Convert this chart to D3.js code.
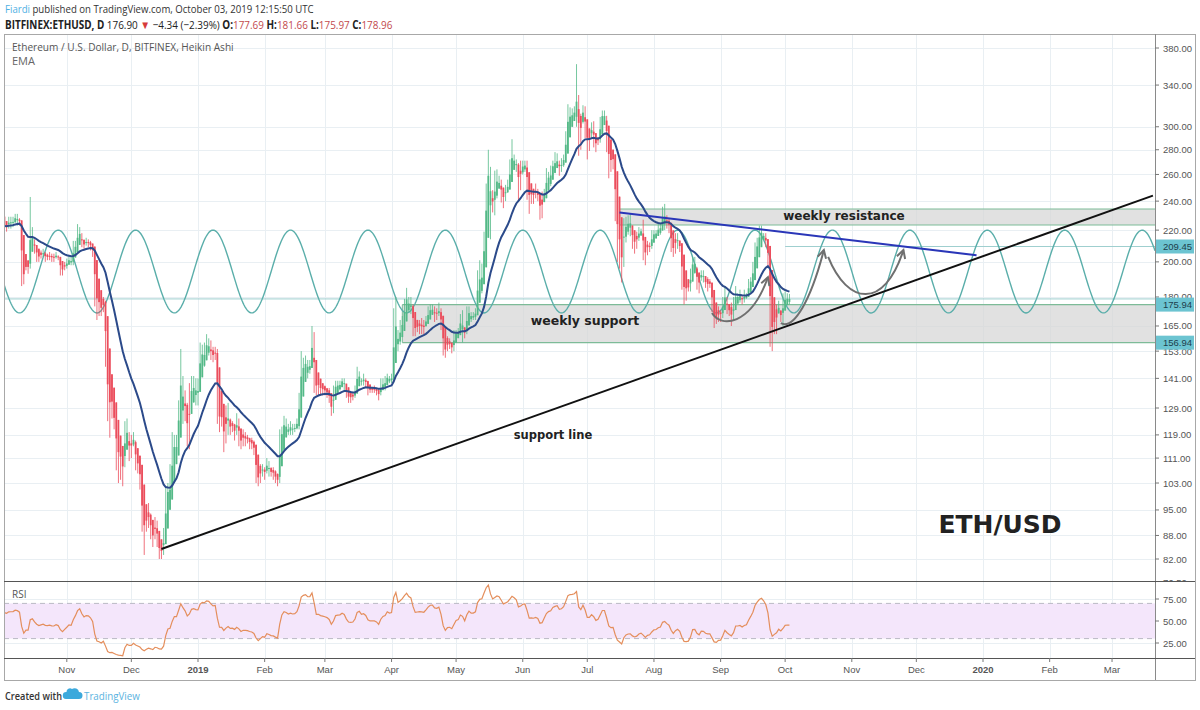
<!DOCTYPE html>
<html>
<head>
<meta charset="utf-8">
<script src="https://cdn.jsdelivr.net/npm/d3@7"></script>
<style>
  body { margin: 0; background: #fff; }
  svg { display: block; }
</style>
</head>
<body>
<svg id="chart" width="1200" height="710"></svg>
<script>
// First daily bar (a few warm-up bars sit left of the visible window)
const firstDay = "2018-09-18";

// Daily BITFINEX ETHUSD, one line per month (close / high / low)
const closes = [
  209, 210, 224, 247, 241, 245, 228, 219, 216, 229, 222, 232, 232,
  231, 227, 221, 223, 227, 224, 227, 229, 227, 226, 190, 196, 197, 197, 218, 212, 209, 204, 203, 205, 205, 203, 203, 204, 202, 203, 204, 202, 195, 196, 198,
  200, 201, 200, 210, 209, 219, 216, 211, 211, 213, 212, 210, 206, 183, 181, 175, 174, 177, 149, 131, 136, 127, 124, 113, 116, 108, 110, 122, 118, 113,
  118, 116, 109, 110, 102, 91, 93, 92, 93, 89, 88, 91, 86, 84, 84, 87, 101, 100, 99, 117, 113, 118, 130, 140, 129, 130, 117, 137, 134, 141, 132,
  140, 155, 148, 154, 157, 154, 151, 151, 153, 127, 127, 125, 117, 129, 121, 123, 122, 120, 124, 118, 117, 119, 117, 118, 116, 116, 113, 106, 104, 108, 107,
  107, 110, 106, 107, 106, 104, 104, 119, 120, 125, 120, 122, 122, 121, 122, 124, 134, 146, 146, 149, 145, 148, 158, 137, 140, 138, 137, 136,
  136, 135, 132, 127, 137, 138, 138, 139, 141, 138, 134, 134, 133, 134, 137, 143, 141, 140, 141, 139, 135, 137, 136, 136, 136, 133, 140, 137, 141, 141, 141,
  141, 164, 161, 158, 165, 166, 178, 179, 175, 176, 164, 165, 164, 167, 162, 167, 167, 173, 173, 173, 171, 172, 171, 165, 154, 155, 156, 156, 154, 162,
  161, 163, 169, 162, 162, 172, 171, 170, 170, 173, 194, 186, 196, 216, 250, 264, 245, 234, 261, 251, 255, 244, 245, 249, 251, 267, 273, 271, 268, 255, 268,
  266, 269, 251, 244, 246, 245, 244, 245, 229, 246, 245, 262, 255, 264, 268, 269, 271, 265, 270, 274, 294, 310, 310, 311, 316, 316, 293, 311, 318, 292,
  293, 292, 302, 283, 288, 289, 307, 313, 308, 289, 269, 276, 269, 229, 230, 200, 211, 227, 221, 229, 222, 214, 213, 216, 220, 219, 206, 208, 211, 210, 218,
  218, 218, 222, 222, 233, 226, 227, 221, 211, 207, 217, 211, 209, 187, 188, 185, 184, 195, 202, 197, 187, 191, 194, 190, 187, 188, 186, 174, 169, 169, 172,
  172, 178, 179, 174, 173, 168, 178, 181, 181, 180, 178, 181, 181, 188, 189, 197, 208, 210, 222, 218, 215, 211, 201, 165, 169, 166, 174, 173, 169, 180,
  177, 181.24, 176.9
];
const highs = [
  212, 214, 226, 251, 251, 249, 245, 230, 223, 230, 234, 233, 235,
  234, 232, 228, 225, 229, 229, 229, 231, 231, 228, 226, 198, 200, 201, 243, 222, 214, 210, 206, 207, 208, 206, 205, 206, 205, 205, 206, 204, 203, 199, 200,
  202, 204, 203, 213, 213, 224, 222, 218, 213, 215, 214, 213, 211, 207, 185, 183, 178, 180, 178, 150, 140, 138, 129, 127, 120, 118, 113, 124, 125, 120,
  119, 120, 117, 112, 110, 103, 96, 94, 97, 94, 90, 93, 92, 87, 86, 90, 102, 103, 109, 120, 119, 119, 132, 154, 142, 136, 131, 139, 142, 142, 141,
  141, 157, 156, 157, 161, 159, 158, 155, 155, 154, 129, 128, 126, 130, 131, 125, 124, 123, 127, 125, 119, 121, 120, 119, 118, 118, 117, 113, 107, 109, 109,
  108, 111, 110, 108, 108, 107, 106, 121, 122, 126, 125, 123, 124, 123, 123, 125, 135, 153, 150, 151, 149, 149, 165, 162, 141, 141, 139, 139,
  138, 137, 137, 133, 138, 140, 140, 140, 141, 141, 138, 135, 135, 135, 138, 146, 144, 141, 143, 141, 140, 138, 137, 138, 137, 137, 141, 141, 142, 143, 142,
  143, 174, 180, 163, 168, 170, 179, 185, 180, 180, 176, 167, 167, 168, 169, 168, 170, 175, 176, 176, 175, 174, 177, 174, 166, 156, 160, 159, 157, 163,
  163, 164, 171, 173, 164, 175, 175, 172, 172, 174, 195, 201, 199, 219, 253, 280, 266, 248, 263, 264, 259, 256, 248, 252, 256, 272, 289, 276, 272, 269, 271,
  271, 271, 271, 252, 252, 249, 253, 249, 246, 247, 249, 265, 262, 267, 271, 278, 277, 271, 273, 276, 296, 321, 318, 317, 319, 362, 330, 312, 320, 319,
  304, 296, 304, 305, 293, 291, 309, 315, 315, 310, 291, 279, 280, 271, 237, 230, 212, 228, 229, 230, 231, 223, 218, 219, 222, 221, 227, 211, 213, 212, 220,
  220, 220, 224, 224, 236, 238, 230, 228, 221, 213, 218, 218, 213, 209, 191, 188, 189, 196, 203, 203, 197, 192, 195, 195, 191, 191, 190, 187, 174, 172, 175,
  173, 180, 186, 180, 175, 177, 180, 186, 182, 184, 181, 184, 182, 190, 191, 200, 212, 215, 223, 223, 218, 218, 212, 201, 171, 172, 176, 178, 173, 182,
  183, 182, 181.66
];
const lows = [
  194, 200, 209, 223, 237, 236, 225, 209, 213, 212, 220, 221, 228,
  226, 224, 216, 219, 221, 221, 222, 225, 223, 223, 186, 187, 195, 193, 196, 209, 205, 200, 200, 202, 203, 200, 201, 201, 200, 200, 202, 201, 192, 192, 195,
  196, 199, 198, 198, 205, 208, 213, 209, 208, 210, 209, 207, 203, 175, 168, 170, 170, 172, 146, 124, 118, 125, 121, 107, 103, 104, 102, 108, 114, 110,
  111, 115, 107, 106, 101, 89, 83, 89, 90, 87, 85, 87, 85, 82, 82, 83, 86, 97, 96, 98, 110, 109, 117, 128, 123, 124, 115, 114, 130, 131, 130,
  130, 138, 147, 146, 151, 151, 149, 148, 149, 123, 120, 122, 113, 116, 119, 119, 120, 117, 119, 115, 114, 115, 115, 116, 114, 114, 112, 103, 102, 103, 105,
  104, 106, 105, 105, 104, 103, 102, 103, 116, 119, 118, 119, 119, 119, 120, 121, 121, 134, 140, 143, 141, 143, 147, 135, 134, 134, 134, 134,
  134, 133, 131, 126, 127, 135, 136, 136, 138, 136, 133, 131, 131, 132, 133, 137, 139, 138, 138, 137, 134, 135, 135, 135, 134, 132, 134, 136, 136, 140, 139,
  139, 140, 154, 153, 156, 161, 165, 173, 172, 171, 160, 160, 162, 161, 161, 161, 165, 167, 170, 171, 167, 168, 170, 163, 151, 150, 153, 154, 152, 153,
  159, 160, 162, 157, 159, 161, 168, 167, 168, 168, 172, 178, 182, 195, 214, 242, 214, 232, 230, 242, 249, 239, 235, 240, 246, 250, 263, 264, 262, 240, 248,
  260, 262, 241, 231, 238, 238, 242, 240, 227, 228, 240, 242, 251, 251, 263, 261, 265, 259, 262, 266, 273, 293, 299, 304, 306, 300, 275, 280, 303, 290,
  272, 279, 290, 282, 278, 284, 286, 304, 303, 278, 257, 262, 264, 226, 200, 196, 188, 197, 212, 217, 216, 208, 205, 208, 213, 217, 201, 198, 204, 206, 208,
  213, 215, 217, 217, 221, 220, 221, 218, 206, 203, 205, 208, 206, 184, 176, 178, 183, 183, 194, 193, 184, 182, 189, 188, 185, 183, 185, 172, 164, 166, 167,
  167, 169, 176, 171, 170, 165, 168, 175, 176, 177, 176, 177, 179, 180, 186, 187, 195, 205, 206, 210, 214, 209, 198, 155, 153, 161, 161, 172, 167, 165,
  174, 176, 175.97
];

// Axis ticks
const priceTicks = [380, 340, 300, 280, 260, 240, 220, 200, 180, 165, 153, 141, 129, 119, 111, 103, 95, 88, 82, 76.5];
const rsiTicks = [75, 50, 25];
const monthTicks = ["2018-11-01", "2018-12-01", "2019-01-01", "2019-02-01", "2019-03-01", "2019-04-01", "2019-05-01", "2019-06-01",
  "2019-07-01", "2019-08-01", "2019-09-01", "2019-10-01", "2019-11-01", "2019-12-01", "2020-01-01", "2020-02-01", "2020-03-01"];
const monthLabels = ["Nov", "Dec", "2019", "Feb", "Mar", "Apr", "May", "Jun", "Jul", "Aug", "Sep", "Oct", "Nov", "Dec", "2020", "Feb", "Mar"];

// Drawings (date, price)
const resistanceZone = ["2019-07-16", 234.4, 223.4];
const supportZone = ["2019-04-06", 175.94, 156.94];
const levelLine = ["2019-10-01", 209.45];
const lastClose = 178.96;
const axisBadges = [209.45, 175.94, 156.94];
const blueTrend = [["2019-07-16", 232], ["2019-12-29", 204]];
const supportTrend = [["2018-12-15", 84.5], ["2020-03-20", 244]];
const sinePeak = ["2019-09-17", 220];
const sineTrough = ["2019-10-05", 171.6];
const curveArrows = [
  [["2019-08-28", 171.5], ["2019-09-01", 164], ["2019-09-15", 165], ["2019-09-23", 191]],
  [["2019-09-29", 166.4], ["2019-10-05", 163], ["2019-10-13", 178.4], ["2019-10-19", 207.2]],
  [["2019-10-21", 203], ["2019-10-30", 175.7], ["2019-11-16", 173], ["2019-11-25", 207.2]]
];

// Header quote line pieces: text, colour, weight
const quoteParts = [
  ["BITFINEX:ETHUSD, D ", "#222", "bold"],
  ["176.90 ", "#222", "normal"],
  ["▼ ", "#d63b3b", "normal"],
  ["−4.34 (−2.39%) ", "#222", "normal"],
  ["O:", "#222", "bold"], ["177.69 ", "#c2494d", "normal"],
  ["H:", "#222", "bold"], ["181.66 ", "#c2494d", "normal"],
  ["L:", "#222", "bold"], ["175.97 ", "#c2494d", "normal"],
  ["C:", "#222", "bold"], ["178.96", "#c2494d", "normal"]
];

const emaLength = 20;
const rsiLength = 14;

// ---- layout ----
const frame = { left: 4, top: 34, right: 1195, bottom: 680 };
const axisX = 1155;
const mainBottom = 581;
const rsiBottom = 658;
const upColor = "#53b987";
const downColor = "#eb4d5c";
const gridColor = "#e9eff3";

const parse = d3.utcParse("%Y-%m-%d");
const svg = d3.select("#chart");

const x = d3.scaleUtc()
  .domain([Date.UTC(2019, 0, 1), Date.UTC(2020, 0, 1)])
  .range([198, 983]);
const y = d3.scaleLog().domain([82, 380]).range([559, 48]);
const yR = d3.scaleLinear().domain([25, 75]).range([643, 599]);

// ---- Heikin Ashi + indicators ----
const start = parse(firstDay);
const bars = closes.map((c, i) => ({
  date: d3.utcDay.offset(start, i),
  o: i ? closes[i - 1] : c, h: highs[i], l: lows[i], c: c
}));
bars.forEach((b, i) => {
  b.haC = (b.o + b.h + b.l + b.c) / 4;
  b.haO = i ? (bars[i - 1].haO + bars[i - 1].haC) / 2 : (b.o + b.c) / 2;
  b.haH = Math.max(b.h, b.haO, b.haC);
  b.haL = Math.min(b.l, b.haO, b.haC);
});
const k = 2 / (emaLength + 1);
bars.forEach((b, i) => { b.ema = i ? bars[i - 1].ema + k * (b.haC - bars[i - 1].ema) : b.haC; });
let up = 0, dn = 0;
bars.forEach((b, i) => {
  if (!i) return;
  const ch = b.haC - bars[i - 1].haC;
  const g = Math.max(ch, 0), l = Math.max(-ch, 0);
  if (i <= rsiLength) { up += g / rsiLength; dn += l / rsiLength; }
  else { up = (up * (rsiLength - 1) + g) / rsiLength; dn = (dn * (rsiLength - 1) + l) / rsiLength; }
  if (i >= rsiLength) b.rsi = dn === 0 ? 100 : 100 - 100 / (1 + up / dn);
});

// ---- clips ----
const defs = svg.append("defs");
defs.append("clipPath").attr("id", "clipMain").append("rect")
  .attr("x", frame.left).attr("y", frame.top).attr("width", axisX - frame.left).attr("height", mainBottom - frame.top);
defs.append("clipPath").attr("id", "clipRsi").append("rect")
  .attr("x", frame.left).attr("y", mainBottom).attr("width", axisX - frame.left).attr("height", rsiBottom - mainBottom);

// ---- grid ----
const grid = svg.append("g").attr("stroke", gridColor).attr("stroke-width", 1);
grid.selectAll(".vg").data(monthTicks).join("line")
  .attr("x1", d => Math.round(x(parse(d))) + 0.5).attr("x2", d => Math.round(x(parse(d))) + 0.5)
  .attr("y1", frame.top).attr("y2", rsiBottom);
grid.selectAll(".hg").data(priceTicks.filter(p => y(p) < mainBottom - 2)).join("line")
  .attr("x1", frame.left).attr("x2", axisX)
  .attr("y1", d => Math.round(y(d)) + 0.5).attr("y2", d => Math.round(y(d)) + 0.5);
svg.append("g").attr("stroke", gridColor).selectAll("line").data(rsiTicks).join("line")
  .attr("x1", frame.left).attr("x2", axisX)
  .attr("y1", d => Math.round(yR(d)) + 0.5).attr("y2", d => Math.round(yR(d)) + 0.5);

// ---- main pane ----
const main = svg.append("g").attr("clip-path", "url(#clipMain)");
const px = p => [x(parse(p[0])), y(p[1])];

// zones
[resistanceZone, supportZone].forEach(z => {
  const x0 = x(parse(z[0]));
  main.append("rect").attr("x", x0).attr("y", y(z[1])).attr("width", axisX - x0).attr("height", y(z[2]) - y(z[1]))
    .attr("fill", "#d6d6d6").attr("fill-opacity", 0.72);
  [z[1], z[2]].forEach(p => main.append("line").attr("x1", x0).attr("x2", axisX).attr("y1", y(p)).attr("y2", y(p))
    .attr("stroke", "#7dbb98").attr("stroke-width", 1.2));
  main.append("line").attr("x1", x0).attr("x2", x0).attr("y1", y(z[1])).attr("y2", y(z[2]))
    .attr("stroke", "#7dbb98").attr("stroke-width", 1);
});

// last price + level line
main.append("line").attr("x1", frame.left).attr("x2", axisX).attr("y1", y(lastClose)).attr("y2", y(lastClose))
  .attr("stroke", "#9fcfcf").attr("stroke-width", 1);
main.append("line").attr("x1", x(parse(levelLine[0]))).attr("x2", axisX).attr("y1", y(levelLine[1])).attr("y2", y(levelLine[1]))
  .attr("stroke", "#9fcfcf").attr("stroke-width", 1);

// sine line drawing
const sx0 = x(parse(sinePeak[0])), sy0 = y(sinePeak[1]);
const sx1 = x(parse(sineTrough[0])), sy1 = y(sineTrough[1]);
const period = 2 * (sx1 - sx0);
const sinePts = d3.range(frame.left, axisX + 1, 1).map(px_ =>
  [px_, (sy0 + sy1) / 2 - (sy1 - sy0) / 2 * Math.cos(2 * Math.PI * (px_ - sx0) / period)]);
main.append("path").attr("d", d3.line()(sinePts)).attr("fill", "none")
  .attr("stroke", "#5aaeaa").attr("stroke-width", 1.4);

// candles
const bw = 1.8;
const candles = main.append("g");
candles.selectAll("line").data(bars).join("line")
  .attr("x1", d => x(d.date)).attr("x2", d => x(d.date))
  .attr("y1", d => y(d.haH)).attr("y2", d => y(d.haL))
  .attr("stroke", d => d.haC >= d.haO ? upColor : downColor).attr("stroke-width", 0.8);
candles.selectAll("rect").data(bars).join("rect")
  .attr("x", d => x(d.date) - bw / 2).attr("width", bw)
  .attr("y", d => y(Math.max(d.haO, d.haC)))
  .attr("height", d => Math.max(1, Math.abs(y(d.haO) - y(d.haC))))
  .attr("fill", d => d.haC >= d.haO ? upColor : downColor);

// EMA
main.append("path").datum(bars)
  .attr("d", d3.line().x(d => x(d.date)).y(d => y(d.ema)))
  .attr("fill", "none").attr("stroke", "#2b4a8a").attr("stroke-width", 2);

// trend lines
main.append("line").attr("x1", px(supportTrend[0])[0]).attr("y1", px(supportTrend[0])[1])
  .attr("x2", px(supportTrend[1])[0]).attr("y2", px(supportTrend[1])[1])
  .attr("stroke", "#111").attr("stroke-width", 2);
main.append("line").attr("x1", px(blueTrend[0])[0]).attr("y1", px(blueTrend[0])[1])
  .attr("x2", px(blueTrend[1])[0]).attr("y2", px(blueTrend[1])[1])
  .attr("stroke", "#2a36b8").attr("stroke-width", 2);

// curved arrows
curveArrows.forEach(c => {
  const p = c.map(px);
  main.append("path")
    .attr("d", `M${p[0]}C${p[1]} ${p[2]} ${p[3]}`)
    .attr("fill", "none").attr("stroke", "#6f6f6f").attr("stroke-width", 2);
  const a = Math.atan2(p[3][1] - p[2][1], p[3][0] - p[2][0]);
  const head = [a - 0.5, a + 0.5].map(t => [p[3][0] - 9 * Math.cos(t), p[3][1] - 9 * Math.sin(t)]);
  main.append("path").attr("d", `M${head[0]}L${p[3]}L${head[1]}`)
    .attr("fill", "none").attr("stroke", "#6f6f6f").attr("stroke-width", 2);
});

// annotations
const note = (t, cx, by, fs) => svg.append("text").attr("x", cx).attr("y", by).attr("text-anchor", "middle")
  .attr("font-family", "DejaVu Sans").attr("font-weight", "bold").attr("font-size", fs).attr("fill", "#222").text(t);
note("weekly resistance", 844, 220, 12);
note("weekly support", 585, 325, 12.5);
note("support line", 553, 439, 11.5);
note("ETH/USD", 1000, 533, 25);

// ---- RSI pane ----
const rsiG = svg.append("g").attr("clip-path", "url(#clipRsi)");
rsiG.append("rect").attr("x", frame.left).attr("width", axisX - frame.left)
  .attr("y", yR(70)).attr("height", yR(30) - yR(70)).attr("fill", "#f4e6fb");
[70, 30].forEach(v => rsiG.append("line").attr("x1", frame.left).attr("x2", axisX)
  .attr("y1", yR(v)).attr("y2", yR(v)).attr("stroke", "#b9b9c4").attr("stroke-dasharray", "5,4"));
rsiG.append("path").datum(bars.filter(b => b.rsi !== undefined))
  .attr("d", d3.line().x(d => x(d.date)).y(d => yR(d.rsi)))
  .attr("fill", "none").attr("stroke", "#e48e5c").attr("stroke-width", 1.2);
svg.append("text").attr("x", 12).attr("y", 598).attr("font-family", "Open Sans").attr("font-size", 10)
  .attr("fill", "#555").text("RSI");

// ---- frame + axes ----
const fr = svg.append("g").attr("stroke", "#8a8a8a").attr("fill", "none");
fr.append("rect").attr("x", frame.left + 0.5).attr("y", frame.top + 0.5)
  .attr("width", frame.right - frame.left).attr("height", frame.bottom - frame.top).attr("stroke", "#a8a8a8");
fr.append("line").attr("x1", axisX + 0.5).attr("x2", axisX + 0.5).attr("y1", frame.top).attr("y2", frame.bottom);
fr.append("line").attr("x1", frame.left).attr("x2", frame.right).attr("y1", rsiBottom + 0.5).attr("y2", rsiBottom + 0.5).attr("stroke", "#555");

const axisFont = "Liberation Sans";
const pAxis = svg.append("g").attr("font-family", axisFont).attr("font-size", 9.5).attr("fill", "#555");
pAxis.selectAll("text").data(priceTicks).join("text")
  .attr("x", 1163).attr("y", d => y(d) + 3.5).text(d => d.toFixed(2));
pAxis.selectAll("line").data(priceTicks).join("line")
  .attr("x1", axisX).attr("x2", axisX + 4).attr("y1", d => y(d)).attr("y2", d => y(d)).attr("stroke", "#777");
// the 76.50 label is cut by the pane separator
svg.append("rect").attr("x", axisX + 1).attr("y", mainBottom + 1).attr("width", frame.right - axisX - 1).attr("height", 12).attr("fill", "#fff");
const rAxis = svg.append("g").attr("font-family", axisFont).attr("font-size", 9.5).attr("fill", "#555");
rAxis.selectAll("text").data(rsiTicks).join("text")
  .attr("x", 1163).attr("y", d => yR(d) + 3.5).text(d => d.toFixed(2));
rAxis.selectAll("line").data(rsiTicks).join("line")
  .attr("x1", axisX).attr("x2", axisX + 4).attr("y1", d => yR(d)).attr("y2", d => yR(d)).attr("stroke", "#777");
svg.append("line").attr("x1", frame.left).attr("x2", frame.right).attr("y1", mainBottom + 0.5).attr("y2", mainBottom + 0.5).attr("stroke", "#555");

// badges on the price axis
const badges = svg.append("g");
axisBadges.forEach(v => {
  badges.append("rect").attr("x", axisX + 1).attr("y", y(v) - 7).attr("width", 38).attr("height", 14).attr("fill", "#6cc4d1");
  badges.append("text").attr("x", 1163).attr("y", y(v) + 3.5).attr("font-family", axisFont).attr("font-size", 9.5)
    .attr("fill", "#1d3e4c").text(v.toFixed(2));
});

// time axis
const tAxis = svg.append("g").attr("font-family", axisFont).attr("font-size", 9.5).attr("fill", "#555").attr("text-anchor", "middle");
tAxis.selectAll("text").data(monthTicks).join("text")
  .attr("x", d => x(parse(d))).attr("y", 673)
  .attr("font-weight", (d, i) => /^\d{4}$/.test(monthLabels[i]) ? "bold" : "normal")
  .text((d, i) => monthLabels[i]);
tAxis.selectAll("line").data(monthTicks).join("line")
  .attr("x1", d => x(parse(d))).attr("x2", d => x(parse(d))).attr("y1", rsiBottom).attr("y2", rsiBottom + 4).attr("stroke", "#777");

// ---- header (narrow font in the original: draw natural, then squeeze horizontally) ----
function squeezed(left, base, width, build) {
  const g = svg.append("g");
  const t = g.append("text").attr("font-family", "Open Sans").attr("font-size", 11.5);
  build(t);
  const w = t.node().getComputedTextLength();
  g.attr("transform", `translate(${left},${base}) scale(${width / w},1)`);
  return t;
}
squeezed(5, 13, 309, t => {
  t.attr("fill", "#333");
  t.append("tspan").attr("fill", "#4fb0e3").text("Fiardi");
  t.append("tspan").text(" published on TradingView.com, October 03, 2019 12:15:50 UTC");
});
squeezed(5, 29, 388, t => {
  t.selectAll("tspan").data(quoteParts).join("tspan")
    .attr("fill", d => d[1]).attr("font-weight", d => d[2]).text(d => d[0]);
});
squeezed(12, 51, 222, t => t.attr("font-size", 11).attr("fill", "#555")
  .text("Ethereum / U.S. Dollar, D, BITFINEX, Heikin Ashi"));
svg.append("text").attr("x", 12).attr("y", 65).attr("font-family", "Open Sans").attr("font-size", 11)
  .attr("fill", "#666").text("EMA");

// ---- footer ----
squeezed(5, 700, 57, t => t.attr("font-weight", 600).attr("fill", "#333").text("Created with"));
svg.append("path")
  .attr("d", "M66,699 h13 a3.5,3.5 0 0 0 0,-7 a4.5,4.5 0 0 0 -7,-3 a3.5,3.5 0 0 0 -5.5,3 a3,3 0 0 0 -0.5,7 z")
  .attr("fill", "#3ca9dc");
squeezed(84, 700, 56, t => t.attr("fill", "#5ab3e0").text("TradingView"));
</script>
</body>
</html>
